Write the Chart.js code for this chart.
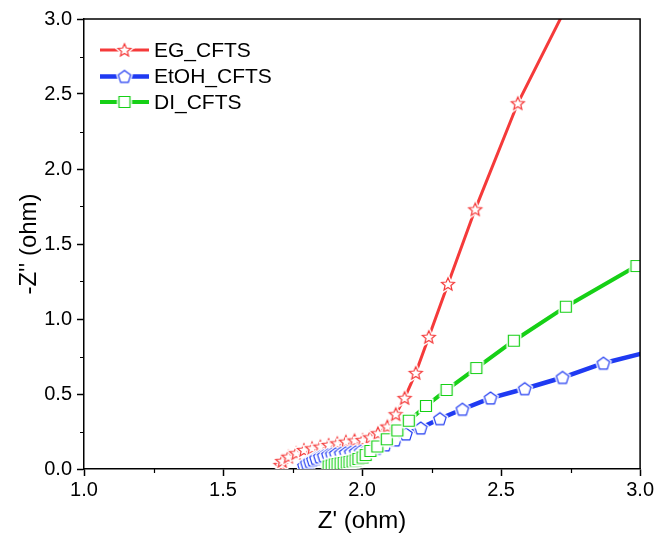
<!DOCTYPE html>
<html>
<head>
<meta charset="utf-8">
<script src="https://cdn.jsdelivr.net/npm/chart.js@4/dist/chart.umd.min.js"></script>
<style>
  html, body { margin: 0; padding: 0; background: #fff; }
  #wrap { width: 656px; height: 540px; }
</style>
</head>
<body>
<div id="wrap"><canvas id="c" width="656" height="540"></canvas></div>
<script>
// Nyquist impedance data: Z' (real) and -Z'' (imaginary), in ohm
const seriesNames = ['EG_CFTS', 'EtOH_CFTS', 'DI_CFTS'];

const egRe = [1.707, 1.713, 1.735, 1.763, 1.791, 1.820, 1.850, 1.880, 1.911, 1.942,
              1.973, 2.002, 2.029, 2.057, 2.091, 2.121, 2.153, 2.193, 2.240, 2.309,
              2.407, 2.560, 2.800];
const egIm = [0.027, 0.053, 0.082, 0.105, 0.127, 0.138, 0.149, 0.160, 0.171, 0.182,
              0.190, 0.193, 0.211, 0.238, 0.283, 0.365, 0.473, 0.640, 0.880, 1.233,
              1.731, 2.438, 3.320];

const etohRe = [1.791, 1.801, 1.812, 1.823, 1.834, 1.848, 1.862, 1.877, 1.891, 1.905,
                1.923, 1.941, 1.959, 1.977, 1.995, 2.013, 2.030, 2.052, 2.083, 2.119,
                2.158, 2.211, 2.280, 2.361, 2.462, 2.585, 2.721, 2.868, 3.029];
const etohIm = [0.020, 0.037, 0.050, 0.060, 0.070, 0.080, 0.087, 0.093, 0.097, 0.100,
                0.103, 0.107, 0.110, 0.113, 0.117, 0.120, 0.127, 0.138, 0.160, 0.193,
                0.233, 0.273, 0.335, 0.398, 0.473, 0.535, 0.610, 0.705, 0.780];

const diRe = [1.880, 1.891, 1.902, 1.912, 1.923, 1.934, 1.945, 1.955, 1.966, 1.977,
              1.987, 2.002, 2.013, 2.030, 2.055, 2.089, 2.127, 2.168, 2.230, 2.304,
              2.411, 2.546, 2.733, 2.987];
const diIm = [0.017, 0.023, 0.030, 0.033, 0.037, 0.040, 0.043, 0.047, 0.050, 0.057,
              0.067, 0.077, 0.093, 0.120, 0.150, 0.198, 0.257, 0.322, 0.420, 0.527,
              0.673, 0.855, 1.082, 1.353];

const xTickValues = [1.0, 1.5, 2.0, 2.5, 3.0];
const yTickValues = [0.0, 0.5, 1.0, 1.5, 2.0, 2.5, 3.0];
const xMinorTicks = [1.25, 1.75, 2.25, 2.75];
const yMinorTicks = [0.25, 0.75, 1.25, 1.75, 2.25, 2.75];

const FONT = "'Liberation Sans', Arial, sans-serif";
const RED = '#f53a3a';
const BLUE = '#1f3af2';
const GREEN = '#16d016';

// Hollow marker sprites with a thin white halo so the line breaks around them
function markerCanvas(shape, color) {
  const r = 6.8, pad = 3;
  const s = Math.ceil(2 * (r + pad));
  const cv = document.createElement('canvas');
  cv.width = s; cv.height = s;
  const g = cv.getContext('2d');
  const c = s / 2;
  g.beginPath();
  if (shape === 'star') {
    for (let i = 0; i < 10; i++) {
      const rr = i % 2 ? r * 0.45 : r;
      const a = -Math.PI / 2 + i * Math.PI / 5;
      const px = c + rr * Math.cos(a), py = c + 0.5 + rr * Math.sin(a);
      i ? g.lineTo(px, py) : g.moveTo(px, py);
    }
  } else if (shape === 'pentagon') {
    const pr = 6.5;
    for (let i = 0; i < 5; i++) {
      const a = -Math.PI / 2 + i * 2 * Math.PI / 5;
      const px = c + pr * Math.cos(a), py = c + 0.6 + pr * Math.sin(a);
      i ? g.lineTo(px, py) : g.moveTo(px, py);
    }
  } else {
    g.rect(c - 5.5, c - 5.5, 11, 11);
  }
  g.closePath();
  g.fillStyle = '#fff';
  g.fill();
  g.lineWidth = 4; g.strokeStyle = '#fff'; g.stroke();
  g.lineWidth = 1.2; g.strokeStyle = color; g.stroke();
  return cv;
}

const markers = [markerCanvas('star', RED), markerCanvas('pentagon', BLUE), markerCanvas('square', GREEN)];
const colors = [RED, BLUE, GREEN];
const widths = [3, 4.5, 4];
// later series are painted over earlier ones
const drawOrder = [2, 1, 0];

function pts(xs, ys) { return xs.map((x, i) => ({ x: x, y: ys[i] })); }
const seriesData = [pts(egRe, egIm), pts(etohRe, etohIm), pts(diRe, diIm)];

// Box frame, minor ticks and the in-plot legend
const decorations = {
  id: 'decorations',
  afterDraw(chart) {
    const { ctx, chartArea: a, scales } = chart;
    ctx.save();
    ctx.strokeStyle = '#000';
    ctx.lineWidth = 1.5;
    ctx.beginPath();
    ctx.moveTo(a.left, a.top); ctx.lineTo(a.right, a.top); ctx.lineTo(a.right, a.bottom);
    ctx.stroke();
    ctx.lineWidth = 1.2;
    ctx.beginPath();
    xMinorTicks.forEach(v => {
      const px = Math.round(scales.x.getPixelForValue(v)) + 0.5;
      ctx.moveTo(px, a.bottom); ctx.lineTo(px, a.bottom + 4);
    });
    yMinorTicks.forEach(v => {
      const py = Math.round(scales.y.getPixelForValue(v)) + 0.5;
      ctx.moveTo(a.left, py); ctx.lineTo(a.left - 4, py);
    });
    ctx.stroke();

    // legend
    ctx.font = '21px ' + FONT;
    ctx.textBaseline = 'middle';
    ctx.textAlign = 'left';
    const rows = [50, 76.5, 102];
    seriesNames.forEach((name, i) => {
      const y = rows[i];
      ctx.strokeStyle = colors[i];
      ctx.lineWidth = widths[i];
      ctx.beginPath();
      ctx.moveTo(100, y); ctx.lineTo(149, y);
      ctx.stroke();
      const m = markers[i];
      ctx.drawImage(m, 124.5 - m.width / 2, y - m.height / 2);
      ctx.fillStyle = '#000';
      ctx.fillText(name, 154, y + 1);
    });
    ctx.restore();
  }
};

new Chart(document.getElementById('c'), {
  type: 'scatter',
  data: {
    datasets: seriesNames.map((name, i) => ({
      label: name,
      data: seriesData[i],
      order: drawOrder[i],
      showLine: true,
      borderColor: colors[i],
      backgroundColor: '#fff',
      borderWidth: widths[i],
      pointStyle: markers[i],
      pointRadius: 6,
      pointHoverRadius: 6,
      tension: 0
    }))
  },
  options: {
    responsive: false,
    animation: false,
    devicePixelRatio: 1,
    layout: { padding: { top: 19, right: 14, left: 0, bottom: 0 } },
    plugins: { legend: { display: false }, tooltip: { enabled: false } },
    scales: {
      x: {
        type: 'linear', min: 1, max: 3,
        afterBuildTicks: s => { s.ticks = xTickValues.map(v => ({ value: v })); },
        afterFit: s => { s.height = 71; },
        ticks: {
          callback: v => Number(v).toFixed(1),
          font: { family: FONT, size: 20 }, color: '#000',
          padding: 2, maxRotation: 0, autoSkip: false
        },
        grid: { display: true, drawOnChartArea: false, drawTicks: true, tickLength: 7, tickColor: '#000', tickWidth: 1.5 },
        border: { display: true, color: '#000', width: 1.5 },
        title: { display: true, text: "Z' (ohm)", color: '#000', font: { family: FONT, size: 24 }, padding: { top: 0, bottom: 4 } }
      },
      y: {
        type: 'linear', min: 0, max: 3,
        afterBuildTicks: s => { s.ticks = yTickValues.map(v => ({ value: v })); },
        afterFit: s => { s.width = 84; },
        ticks: {
          callback: v => Number(v).toFixed(1),
          font: { family: FONT, size: 20 }, color: '#000',
          padding: 5, autoSkip: false
        },
        grid: { display: true, drawOnChartArea: false, drawTicks: true, tickLength: 7, tickColor: '#000', tickWidth: 1.5 },
        border: { display: true, color: '#000', width: 1.5 },
        title: { display: true, text: "-Z'' (ohm)", color: '#000', font: { family: FONT, size: 24 }, padding: { top: 15, bottom: 0 } }
      }
    }
  },
  plugins: [decorations]
});
</script>
</body>
</html>
